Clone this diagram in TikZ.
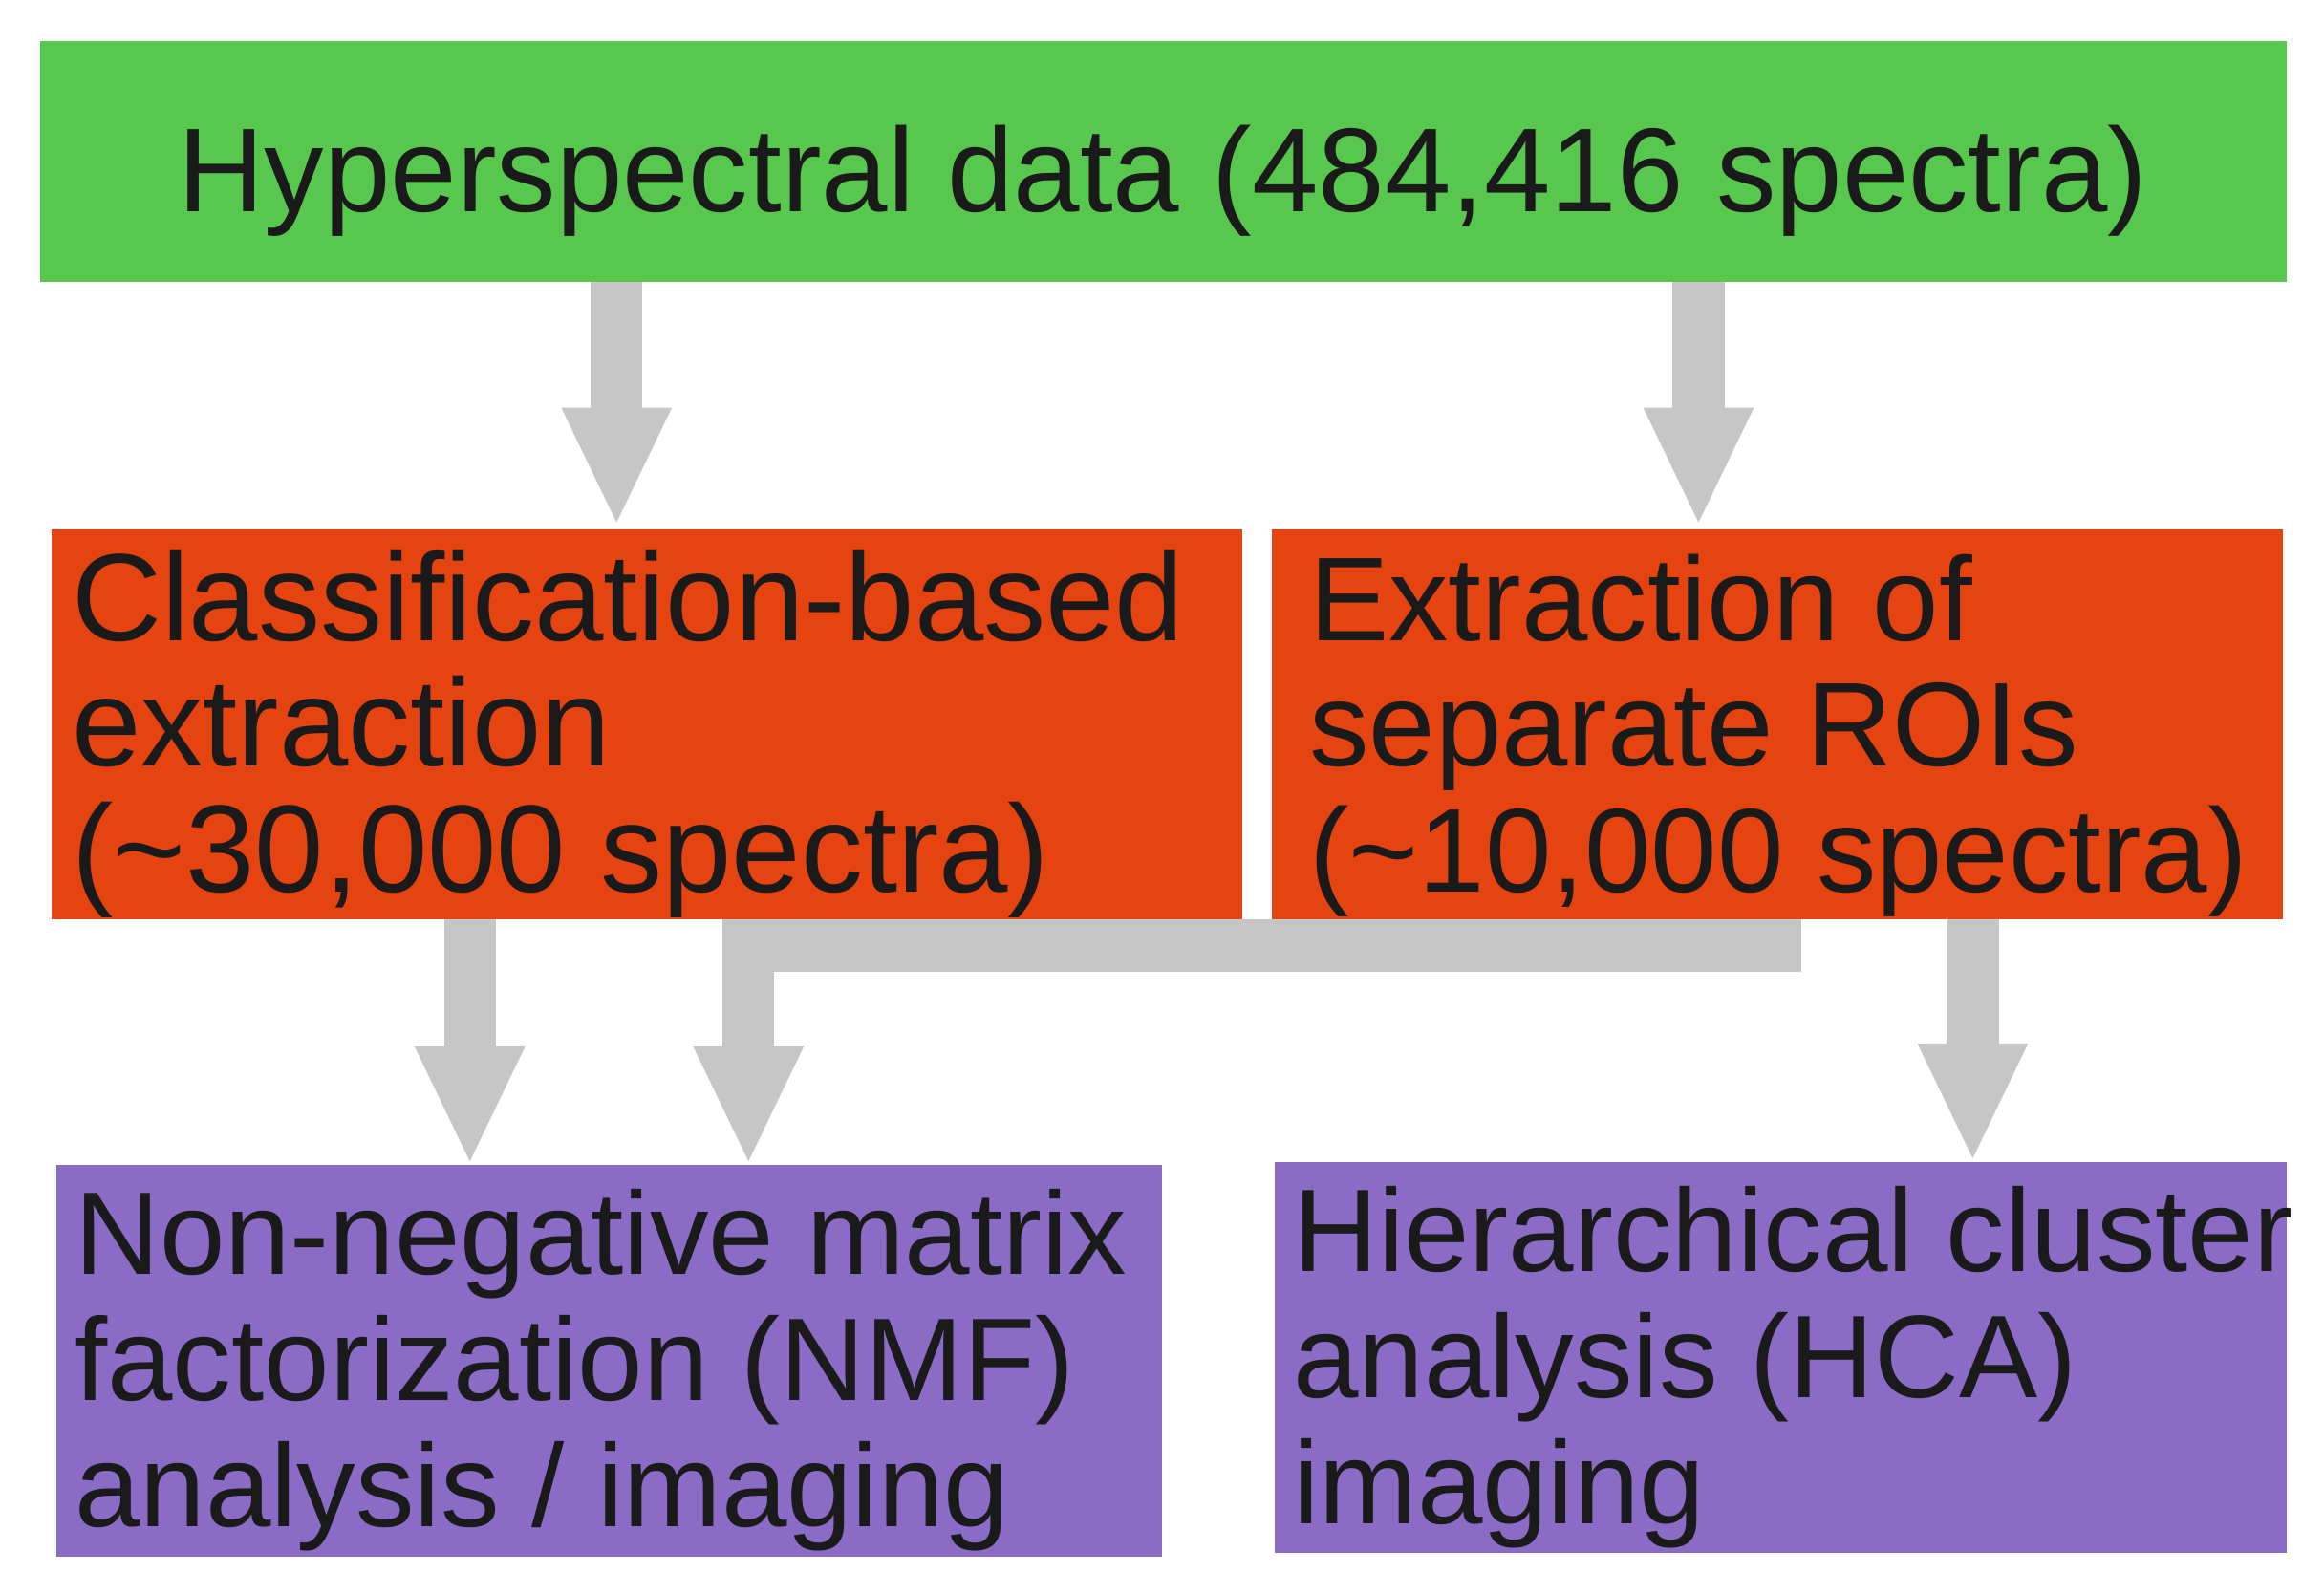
\documentclass[tikz,border=0pt]{standalone}
\usepackage{fontspec}
\setmainfont{Liberation Sans}
\usetikzlibrary{arrows.meta,fit}
\definecolor{cgreen}{HTML}{57C84D}
\definecolor{corange}{HTML}{E5430F}
\definecolor{cpurple}{HTML}{8A6BC6}
\definecolor{cgray}{HTML}{C6C6C6}
\definecolor{ctext}{HTML}{1A1A1A}
\begin{document}
\begin{tikzpicture}[x=0.01551cm,y=-0.01551cm,
  box/.style={inner sep=0pt,draw=none},
  txt/.style={anchor=base west,align=left,inner sep=0pt,text=ctext,font=\fontsize{34}{37.5}\selectfont},
  arr/.style={draw=cgray,line width=0.543cm,line join=miter,line cap=butt,
    -{Triangle[length=1.24cm,width=1.055cm,fill=cgray]}}]
\useasboundingbox (0,0) rectangle (1568,1075);
\node[box,fill=cgreen,fit={(27,28)(1543,190)}] (g) {};
\node[box,fill=corange,fit={(35,357)(838,620)}] (o1) {};
\node[box,fill=corange,fit={(858,357)(1540,620)}] (o2) {};
\node[box,fill=cpurple,fit={(38,786)(784,1050)}] (p1) {};
\node[box,fill=cpurple,fit={(860,784)(1543,1048)}] (p2) {};
\node[txt,font=\fontsize{35.5}{37.5}\selectfont] (tg) at (120,143) {Hyperspectral data (484,416 spectra)};
\node[txt,font=\fontsize{37}{37.5}\selectfont] (t1) at (48,602) {Classification-based\\extraction\\(\textasciitilde 30,000 spectra)};
\node[txt,font=\fontsize{35.5}{37.5}\selectfont] (t2) at (883,602) {Extraction of\\separate ROIs\\(\textasciitilde 10,000 spectra)};
\node[txt,font=\fontsize{35}{37.5}\selectfont] (t3) at (50,1030) {Non-negative matrix\\factorization (NMF)\\analysis / imaging};
\node[txt,font=\fontsize{35}{37.5}\selectfont] (t4) at (872,1028) {Hierarchical cluster\\analysis (HCA)\\imaging};
\coordinate (a1s) at (416,190); \coordinate (a1e) at (416,355);
\coordinate (a2s) at (1146,190); \coordinate (a2e) at (1146,355);
\coordinate (a3s) at (317,620); \coordinate (a3e) at (317,786);
\coordinate (a4s) at (1198,620); \coordinate (a4m) at (1198,638);
\coordinate (a4n) at (505,638); \coordinate (a4e) at (505,786);
\coordinate (a5s) at (1331,620); \coordinate (a5e) at (1331,784);
\draw[arr] (a1s) -- (a1e);
\draw[arr] (a2s) -- (a2e);
\draw[arr] (a3s) -- (a3e);
\draw[arr] (a4s) -- (a4m) -- (a4n) -- (a4e);
\draw[arr] (a5s) -- (a5e);
\end{tikzpicture}
\end{document}
